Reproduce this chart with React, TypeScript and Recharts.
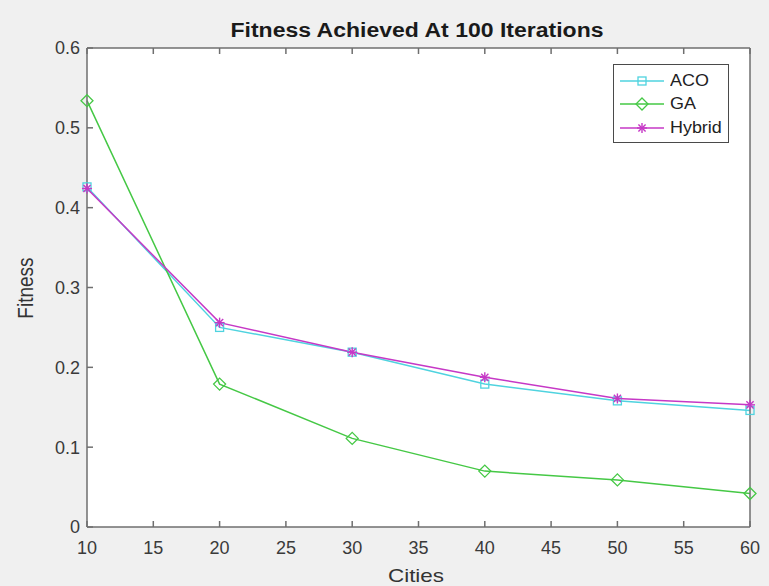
import React from 'react';
import { LineChart, Line, XAxis, YAxis, CartesianGrid, Legend } from 'recharts';

const cities = [10, 20, 30, 40, 50, 60];
const aco = [0.426, 0.25, 0.219, 0.179, 0.158, 0.146];
const ga = [0.534, 0.179, 0.111, 0.07, 0.059, 0.042];
const hybrid = [0.424, 0.256, 0.219, 0.1875, 0.161, 0.153];
const xTicks = [10, 15, 20, 25, 30, 35, 40, 45, 50, 55, 60];
const yTicks = [0, 0.1, 0.2, 0.3, 0.4, 0.5, 0.6];

const data = cities.map((c, i) => ({ cities: c, ACO: aco[i], GA: ga[i], Hybrid: hybrid[i] }));

const C_ACO = '#4fd3df';
const C_GA = '#45c845';
const C_HY = '#c638c6';
const AXIS = '#6f6f6f';
const FONT = '"Liberation Sans", Arial, Helvetica, sans-serif';
const TICK = { fill: '#3a3a3a', fontSize: 18, fontFamily: FONT };

const Square = (props: any) => {
  const { cx, cy, stroke } = props;
  if (cx == null || cy == null) return null;
  return <rect x={cx - 4} y={cy - 4} width={8} height={8} fill="none" stroke={stroke} strokeWidth={1.3} />;
};
const Diamond = (props: any) => {
  const { cx, cy, stroke } = props;
  if (cx == null || cy == null) return null;
  const r = 6;
  return (
    <polygon
      points={`${cx},${cy - r} ${cx + r},${cy} ${cx},${cy + r} ${cx - r},${cy}`}
      fill="none"
      stroke={stroke}
      strokeWidth={1.3}
    />
  );
};
const Star = (props: any) => {
  const { cx, cy, stroke } = props;
  if (cx == null || cy == null) return null;
  const r = 5;
  const d = 3.6;
  return (
    <g stroke={stroke} strokeWidth={1.4}>
      <line x1={cx - r} y1={cy} x2={cx + r} y2={cy} />
      <line x1={cx} y1={cy - r} x2={cx} y2={cy + r} />
      <line x1={cx - d} y1={cy - d} x2={cx + d} y2={cy + d} />
      <line x1={cx - d} y1={cy + d} x2={cx + d} y2={cy - d} />
    </g>
  );
};

const legendItems = [
  { name: 'ACO', color: C_ACO, Marker: Square },
  { name: 'GA', color: C_GA, Marker: Diamond },
  { name: 'Hybrid', color: C_HY, Marker: Star },
];

const LegendBox = () => (
  <div
    style={{
      border: '1px solid #4a4a4a',
      background: '#fff',
      width: 114,
      height: 73,
      boxSizing: 'content-box',
      paddingTop: 4,
      fontFamily: FONT,
      fontSize: 16,
      color: '#222',
    }}
  >
    {legendItems.map((it) => (
      <div key={it.name} style={{ display: 'flex', alignItems: 'center', height: 23.5 }}>
        <svg width={50} height={16} style={{ marginLeft: 4 }}>
          <line x1={2} y1={8} x2={46} y2={8} stroke={it.color} strokeWidth={1.5} />
          <it.Marker cx={24} cy={8} stroke={it.color} />
        </svg>
        <span
          style={{
            marginLeft: 2,
            display: 'inline-block',
            transform: 'scaleX(1.12)',
            transformOrigin: 'left center',
          }}
        >
          {it.name}
        </span>
      </div>
    ))}
  </div>
);

export default function App() {
  return (
    <div
      style={{
        position: 'absolute',
        left: 0,
        top: 0,
        width: 769,
        height: 586,
        background: '#f0f0f0',
        fontFamily: FONT,
      }}
    >
      <LineChart
        width={769}
        height={586}
        data={data}
        margin={{ top: 47, right: 18, left: 47, bottom: 29 }}
      >
        <CartesianGrid horizontal={false} vertical={false} fill="#ffffff" />
        <XAxis
          dataKey="cities"
          type="number"
          domain={[10, 60]}
          ticks={xTicks}
          height={30}
          tickSize={-6}
          tickMargin={20}
          stroke={AXIS}
          strokeWidth={1.5}
          tick={TICK}
        />
        <XAxis
          xAxisId="top"
          dataKey="cities"
          type="number"
          orientation="top"
          domain={[10, 60]}
          ticks={xTicks}
          height={1}
          tickSize={-6}
          tickFormatter={() => ''}
          stroke={AXIS}
          strokeWidth={1.5}
        />
        <YAxis
          type="number"
          domain={[0, 0.6]}
          ticks={yTicks}
          width={40}
          tickSize={-6}
          tickMargin={13}
          stroke={AXIS}
          strokeWidth={1.5}
          tickFormatter={(v: number) => (v === 0 ? '0' : v.toFixed(1))}
          tick={TICK}
        />
        <YAxis
          yAxisId="right"
          orientation="right"
          type="number"
          domain={[0, 0.6]}
          ticks={yTicks}
          width={1}
          tickSize={-6}
          tickFormatter={() => ''}
          stroke={AXIS}
          strokeWidth={1.5}
        />
        <Legend
          layout="vertical"
          align="center"
          verticalAlign="middle"
          content={() => <LegendBox />}
          wrapperStyle={{ position: 'absolute', left: 613, top: 64, width: 116, height: 78 }}
        />
        <Line
          dataKey="ACO"
          stroke={C_ACO}
          strokeWidth={1.5}
          dot={(p: any) => <Square key={`a${p.index}`} {...p} stroke={C_ACO} />}
          isAnimationActive={false}
        />
        <Line
          dataKey="GA"
          stroke={C_GA}
          strokeWidth={1.5}
          dot={(p: any) => <Diamond key={`g${p.index}`} {...p} stroke={C_GA} />}
          isAnimationActive={false}
        />
        <Line
          dataKey="Hybrid"
          stroke={C_HY}
          strokeWidth={1.5}
          dot={(p: any) => <Star key={`h${p.index}`} {...p} stroke={C_HY} />}
          isAnimationActive={false}
        />
      </LineChart>
      <div
        style={{
          position: 'absolute',
          left: 417,
          top: 30,
          transform: 'translate(-50%, -50%) scaleX(1.18)',
          fontWeight: 'bold',
          fontSize: 19.5,
          color: '#1a1a1a',
          whiteSpace: 'nowrap',
        }}
      >
        Fitness Achieved At 100 Iterations
      </div>
      <div
        style={{
          position: 'absolute',
          left: 416,
          top: 576,
          transform: 'translate(-50%, -50%) scaleX(1.18)',
          fontSize: 19,
          color: '#333',
          whiteSpace: 'nowrap',
        }}
      >
        Cities
      </div>
      <div
        style={{
          position: 'absolute',
          left: 26,
          top: 288,
          transform: 'translate(-50%, -50%) rotate(-90deg) scaleY(1.18)',
          fontSize: 19,
          color: '#333',
          whiteSpace: 'nowrap',
        }}
      >
        Fitness
      </div>
    </div>
  );
}
